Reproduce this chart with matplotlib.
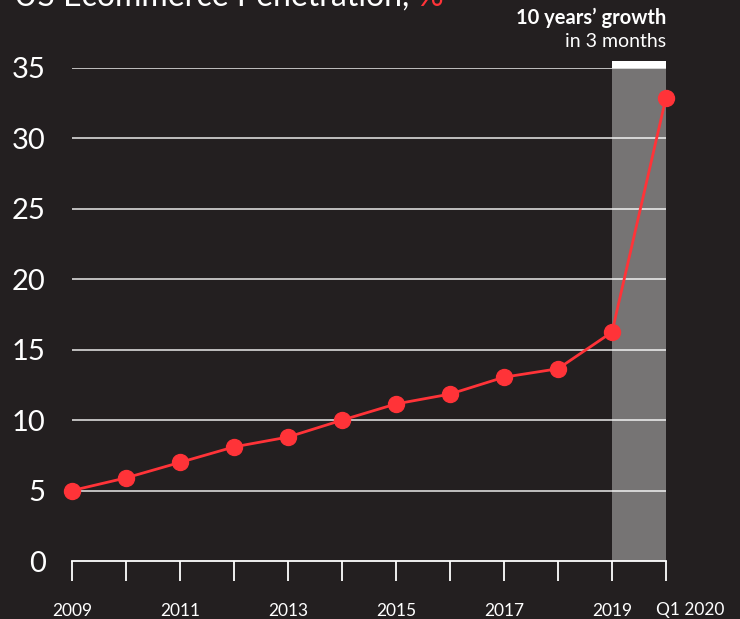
import numpy as np
import matplotlib
matplotlib.use('Agg')
import matplotlib.pyplot as plt

# US ecommerce penetration, %
periods = ['2009', '2010', '2011', '2012', '2013', '2014', '2015',
           '2016', '2017', '2018', '2019', 'Q1 2020']
penetration = [5.0, 5.9, 7.0, 8.1, 8.8, 10.0, 11.15, 11.85, 13.05, 13.65, 16.25, 32.9]
y_ticks = [0, 5, 10, 15, 20, 25, 30, 35]

bg = '#231F20'
red = '#FF3338'
font = 'Lato'

fig = plt.figure(figsize=(7.4, 6.19), dpi=100, facecolor=bg)
ax = fig.add_axes([72 / 740, 58 / 619, 594 / 740, 493 / 619], facecolor=bg)

x = np.arange(len(periods))
ax.set_xlim(x[0], x[-1])
ax.set_ylim(0, 35)

# highlighted final quarter
ax.axvspan(x[-2], x[-1], color='#767474', zorder=1, lw=0)
ax.bar((x[-2] + x[-1]) / 2, 0.5, bottom=35, width=1, color='white',
       clip_on=False, zorder=1, lw=0)

for v in y_ticks[1:]:
    ax.axhline(v, color='white', lw=1.1, alpha=0.9, zorder=2)

ax.plot(x, penetration, color=red, lw=2, marker='o', markersize=11.5, zorder=3,
        clip_on=False)

for s in ['top', 'left', 'right']:
    ax.spines[s].set_visible(False)
ax.spines['bottom'].set_color('white')
ax.spines['bottom'].set_linewidth(1.3)
ax.spines['bottom'].set_zorder(4)

ax.set_yticks(y_ticks)
ax.set_yticklabels([str(v) for v in y_ticks], fontsize=21, color='white', family=font)
ax.tick_params(axis='y', length=0, pad=19)

ax.set_xticks(x)
labels = [p if (i % 2 == 0 and i < len(periods) - 1) else '' for i, p in enumerate(periods)]
ax.set_xticklabels(labels, fontsize=12.5, color='white', family=font)
ax.tick_params(axis='x', length=14.5, width=1.3, color='white', direction='out', pad=16)
ax.text(x[-1] + 0.45, -0.083, periods[-1], transform=ax.get_xaxis_transform(),
        ha='center', va='top', fontsize=12.5, color='white', family=font)

# annotation above the band
ax.text(x[-1], 1.101, "10 years\u2019 growth", transform=ax.get_xaxis_transform(),
        ha='right', va='center', fontsize=14.5, color='white', fontweight='bold', family=font)
ax.text(x[-1], 1.053, "in 3 months", transform=ax.get_xaxis_transform(),
        ha='right', va='center', fontsize=14, color='white', family=font)

# title (cut at top edge as in the source)
t1 = fig.text(14 / 740, 1 - 6 / 619, 'US Ecommerce Penetration, ', ha='left', va='baseline',
              fontsize=23, color='white', family=font)
fig.canvas.draw()
bb = t1.get_window_extent()
fig.text(bb.x1 / 740, 1 - 6 / 619, '%', ha='left', va='baseline',
         fontsize=23, color=red, family=font)

fig.savefig('out.png', dpi=100, facecolor=bg)
